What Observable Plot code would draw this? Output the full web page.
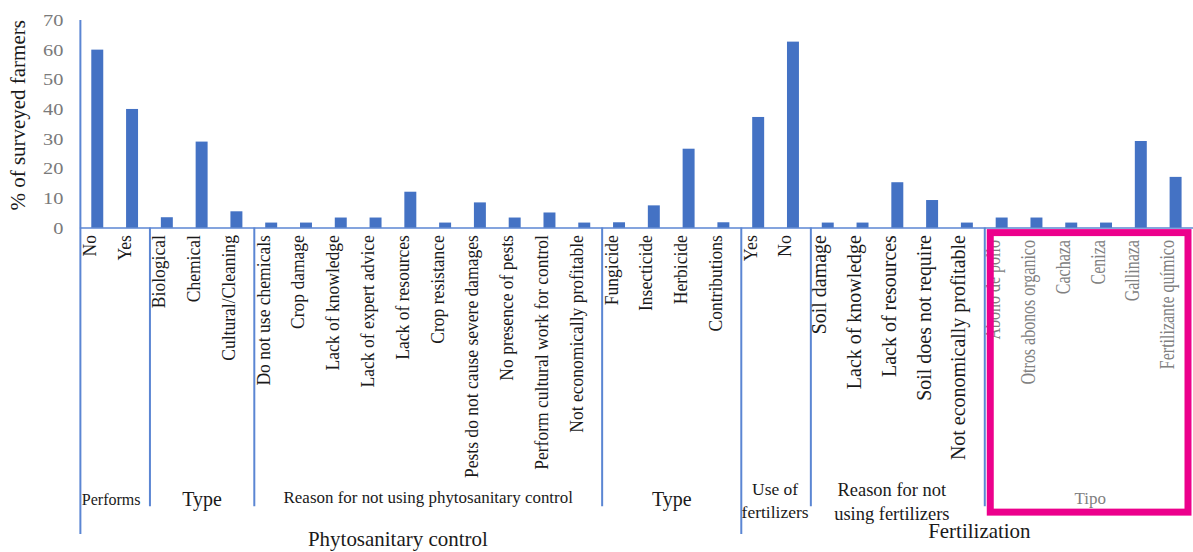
<!DOCTYPE html>
<html><head><meta charset="utf-8">
<script src="https://cdn.jsdelivr.net/npm/d3@7"></script>
<script src="https://cdn.jsdelivr.net/npm/@observablehq/plot@0.6"></script>
<style>
html,body{margin:0;padding:0;background:#fff;overflow:hidden;}
#chart svg{display:block}
</style></head><body><div id="chart"></div>
<script>
// ---------- data ----------
const labels = [
  "No","Yes",
  "Biological","Chemical","Cultural/Cleaning",
  "Do not use chemicals","Crop damage","Lack of knowledge","Lack of expert advice","Lack of resources",
  "Crop resistance","Pests do not cause severe damages","No presence of pests","Perform cultural work for control","Not economically profitable",
  "Fungicide","Insecticide","Herbicide","Contributions",
  "Yes","No",
  "Soil damage","Lack of knowledge","Lack of resources","Soil does not require","Not economically profitable",
  "Abono de pollo","Otros abonos organico","Cachaza","Ceniza","Gallinaza","Fertilizante químico"
];
const values = [
  60, 40,
  3.5, 29, 5.5,
  1.7, 1.7, 3.4, 3.4, 12.1, 1.7, 8.5, 3.4, 5.1, 1.7,
  1.8, 7.5, 26.6, 1.8,
  37.3, 62.7,
  1.7, 1.7, 15.3, 9.3, 1.7,
  3.4, 3.4, 1.7, 1.7, 29.2, 17.1
];
const subgroupNames = ["Performs","Type","Reason for not using phytosanitary control","Type","Use of\nfertilizers","Reason for not\nusing fertilizers","Tipo"];
const subgroupSizes = [2, 3, 10, 4, 2, 5, 6];
const topGroupNames = ["Phytosanitary control","Fertilization"];
const topGroupSizes = [19, 13];
const yTicks = [0, 10, 20, 30, 40, 50, 60, 70];
const yTitle = "% of surveyed farmers";

// ---------- styles / layout ----------
const W = 1195, H = 552, mL = 80, mR = 0, mT = 20, mB = 324;
const BLUE = "#4472C4", LINE = "#5B86D3", PINK = "#EC008C";
const FONT = "'Liberation Serif', 'Times New Roman', serif";
const padIn = 0.656, padOut = padIn / 2;
const labelSize = [18.5, 18.5, 18.5, 18.5, 19, 20, 20];
const labelScale = [0.95, 0.95, 0.95, 0.95, 0.95, 1, 0.8];
const labelDy = [7, 7, 7, 7, 7, 7, 12];
const labelFill = ["#1a1a1a","#1a1a1a","#1a1a1a","#1a1a1a","#1a1a1a","#1a1a1a","#808080"];
const subSize = [17.5, 20, 17.5, 20, 17.5, 18.5, 17];
const subScale = [0.92, 1, 0.97, 1, 1, 1, 1];
const subFill = ["#1a1a1a","#1a1a1a","#1a1a1a","#1a1a1a","#1a1a1a","#1a1a1a","#808080"];
const subDx = [-4, 0, 0, 0, -1, -6, 1];
const subDy = [277, 278, 275, 278, 290, 292, 276];
const topDx = [-13, 12], topDy = [318, 310], topSize = 21;
const sepExtra = [0, 0, 0, 0, 28, 0, 0];

// ---------- build rows ----------
const rows = [];
let k = 0;
subgroupSizes.forEach((n, g) => {
  for (let j = 0; j < n; j++, k++) rows.push({key: g + "|" + j + "|" + labels[k], label: labels[k], value: values[k], sub: g});
});
const keys = rows.map(d => d.key);
const step = (W - mL - mR) / keys.length;

const starts = [];
subgroupSizes.reduce((s, n) => (starts.push(s), s + n), 0);
const topStarts = [];
topGroupSizes.reduce((s, n) => (topStarts.push(s), s + n), 0);

function centerRef(start, n) {
  const mid = start + Math.floor(n / 2);
  return {key: keys[mid], off: (n % 2 === 0) ? -step / 2 : 0};
}

const marks = [];
marks.push(Plot.ruleY([0], {stroke: LINE, strokeWidth: 1.5}));
marks.push(Plot.ruleX([keys[0]], {x: d => d, dx: -step / 2, stroke: LINE, strokeWidth: 2, insetBottom: -307}));
starts.forEach((s, g) => {
  if (g === 0) return;
  marks.push(Plot.ruleX([keys[s]], {x: d => d, dx: -step / 2, stroke: LINE, strokeWidth: 2,
    insetTop: 208, insetBottom: -279 - sepExtra[g]}));
});
marks.push(Plot.barY(rows, {x: "key", y: "value", fill: BLUE}));
// text marks, in this order: 7 category-label marks, 7 subgroup-label marks, 2 top-group marks
subgroupSizes.forEach((n, g) => {
  marks.push(Plot.text(rows.filter(d => d.sub === g), {
    x: "key", text: "label", frameAnchor: "bottom", rotate: -90, textAnchor: "end",
    dy: labelDy[g], dx: -2, fontSize: labelSize[g], fill: labelFill[g], fontFamily: FONT
  }));
});
subgroupNames.forEach((name, g) => {
  const c = centerRef(starts[g], subgroupSizes[g]);
  marks.push(Plot.text([name], {
    x: () => c.key, text: d => d, frameAnchor: "bottom", dx: c.off + subDx[g], dy: subDy[g],
    fontSize: subSize[g], fill: subFill[g], fontFamily: FONT, lineHeight: 1.28
  }));
});
topGroupNames.forEach((name, g) => {
  const c = centerRef(topStarts[g], topGroupSizes[g]);
  marks.push(Plot.text([name], {
    x: () => c.key, text: d => d, frameAnchor: "bottom", dx: c.off + topDx[g], dy: topDy[g],
    fontSize: topSize, fill: "#1a1a1a", fontFamily: FONT
  }));
});
marks.push(Plot.axisY({ticks: yTicks, tickSize: 0, tickPadding: 17, fontSize: 17, color: "#7a7a7a", fontFamily: FONT, label: null}));
marks.push(Plot.text([yTitle], {x: null, y: null, text: d => d, frameAnchor: "left", textAnchor: "middle", rotate: -90, dx: -62, dy: -9, fontSize: 21, fill: "#1a1a1a", fontFamily: FONT}));

const plot = Plot.plot({
  width: W, height: H,
  marginLeft: mL, marginRight: mR, marginTop: mT, marginBottom: mB,
  style: {fontFamily: FONT, background: "#fff"},
  x: {type: "band", domain: keys, paddingInner: padIn, paddingOuter: padOut, align: 0.5, round: false, axis: null},
  y: {domain: [0, 70], axis: null},
  marks
});
document.getElementById("chart").appendChild(plot);

// glyph compression to mimic the reference typography
function squeezeGroup(g, s) {
  if (!g || s === 1) return;
  g.querySelectorAll("text").forEach(t => {
    const tr = t.getAttribute("transform") || "";
    t.setAttribute("transform", tr + ` scale(${s},1)`);
  });
}
const textGroups = Array.from(plot.querySelectorAll("g[aria-label]")).filter(g => g.getAttribute("aria-label") === "text");
labelScale.forEach((s, g) => squeezeGroup(textGroups[g], s));
subScale.forEach((s, g) => squeezeGroup(textGroups[7 + g], s));
Array.from(plot.querySelectorAll("g[aria-label]"))
  .filter(g => /tick label/.test(g.getAttribute("aria-label")))
  .forEach(g => squeezeGroup(g, 1.2));

// highlight box around the "Tipo" subgroup, positioned from the plot's scales
const xs = plot.scale("x"), ys = plot.scale("y");
const bw = xs.bandwidth ?? step * (1 - padIn);
const gT = 6;
const firstKey = keys[starts[gT]], lastKey = keys[starts[gT] + subgroupSizes[gT] - 1];
const leftB = xs.apply(firstKey) + bw / 2 - step / 2;
const rightB = xs.apply(lastKey) + bw / 2 + step / 2;
const base = ys.apply(0);
d3.select(plot).append("rect")
  .attr("x", leftB + 6).attr("y", base + 5)
  .attr("width", rightB - 5 - (leftB + 6)).attr("height", 280)
  .attr("fill", "none").attr("stroke", PINK).attr("stroke-width", 7);
</script></body></html>
